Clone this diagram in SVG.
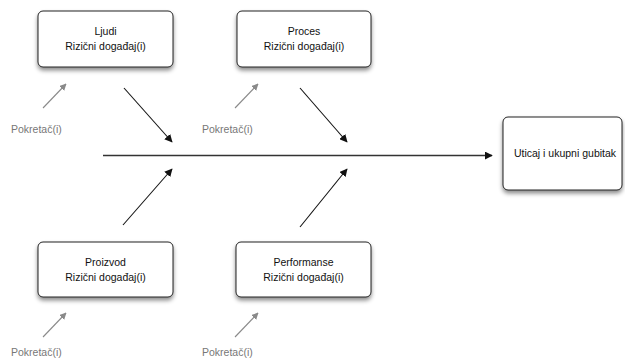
<svg xmlns="http://www.w3.org/2000/svg" width="625" height="358" viewBox="0 0 625 358">
  <style>
    .box { fill: #ffffff; stroke: #222222; stroke-width: 1; filter: url(#shadow); }
    .lbl { font-family: "Liberation Sans", Arial, sans-serif; font-size: 10.5px; fill: #111111; text-anchor: middle; }
    .drv { font-family: "Liberation Sans", Arial, sans-serif; font-size: 10.5px; fill: #777777; }
    .main { stroke: #333333; stroke-width: 1.3; fill: none; marker-end: url(#arrowBlack); }
    .cause { stroke: #111111; stroke-width: 1.1; fill: none; marker-end: url(#arrowBlack); }
    .driver { stroke: #8a8a8a; stroke-width: 1.1; fill: none; marker-end: url(#arrowGray); }
  </style>
  <defs>
    <filter id="shadow" x="-20%" y="-20%" width="140%" height="160%">
      <feDropShadow dx="0" dy="3" stdDeviation="2.2" flood-color="#000000" flood-opacity="0.45"/>
    </filter>
    <marker id="arrowBlack" viewBox="0 0 10 10" refX="9" refY="5" markerWidth="8" markerHeight="8" markerUnits="userSpaceOnUse" orient="auto">
      <path d="M0,0 L10,5 L0,10 z" fill="#111111"/>
    </marker>
    <marker id="arrowGray" viewBox="0 0 10 10" refX="9" refY="5" markerWidth="7" markerHeight="7" markerUnits="userSpaceOnUse" orient="auto">
      <path d="M0,0 L10,5 L0,10 z" fill="#8a8a8a"/>
    </marker>
  </defs>

  <g id="connectors">
    <line class="main" x1="103" y1="155.5" x2="492" y2="155.5"/>
    <line class="cause" x1="124" y1="88" x2="172" y2="142"/>
    <line class="cause" x1="300" y1="88" x2="347" y2="142"/>
    <line class="cause" x1="123" y1="225" x2="172" y2="169"/>
    <line class="cause" x1="300" y1="227" x2="347" y2="169"/>
    <line class="driver" x1="43" y1="108" x2="66" y2="84"/>
    <line class="driver" x1="235" y1="108" x2="258" y2="84"/>
    <line class="driver" x1="43" y1="337" x2="66" y2="313"/>
    <line class="driver" x1="235" y1="337" x2="258" y2="313"/>
  </g>

  <g id="node-ljudi">
    <rect class="box" x="38" y="11" width="135" height="56" rx="5"/>
    <text class="lbl" x="105.5" y="35">Ljudi</text>
    <text class="lbl" x="105.5" y="50">Rizični događaj(i)</text>
  </g>
  <g id="node-proces">
    <rect class="box" x="237" y="11" width="134" height="56" rx="5"/>
    <text class="lbl" x="304" y="35">Proces</text>
    <text class="lbl" x="304" y="50">Rizični događaj(i)</text>
  </g>
  <g id="node-proizvod">
    <rect class="box" x="38" y="242" width="135" height="55" rx="5"/>
    <text class="lbl" x="105.5" y="266">Proizvod</text>
    <text class="lbl" x="105.5" y="281">Rizični događaj(i)</text>
  </g>
  <g id="node-performanse">
    <rect class="box" x="236" y="242" width="135" height="55" rx="5"/>
    <text class="lbl" x="303.5" y="266">Performanse</text>
    <text class="lbl" x="303.5" y="281">Rizični događaj(i)</text>
  </g>
  <g id="node-uticaj">
    <rect class="box" x="503" y="117" width="119" height="73" rx="5"/>
    <text class="lbl" x="565" y="157">Uticaj i ukupni gubitak</text>
  </g>

  <g id="drivers">
    <text class="drv" x="11" y="133">Pokretač(i)</text>
    <text class="drv" x="202" y="133">Pokretač(i)</text>
    <text class="drv" x="11" y="356">Pokretač(i)</text>
    <text class="drv" x="202" y="356">Pokretač(i)</text>
  </g>
</svg>
